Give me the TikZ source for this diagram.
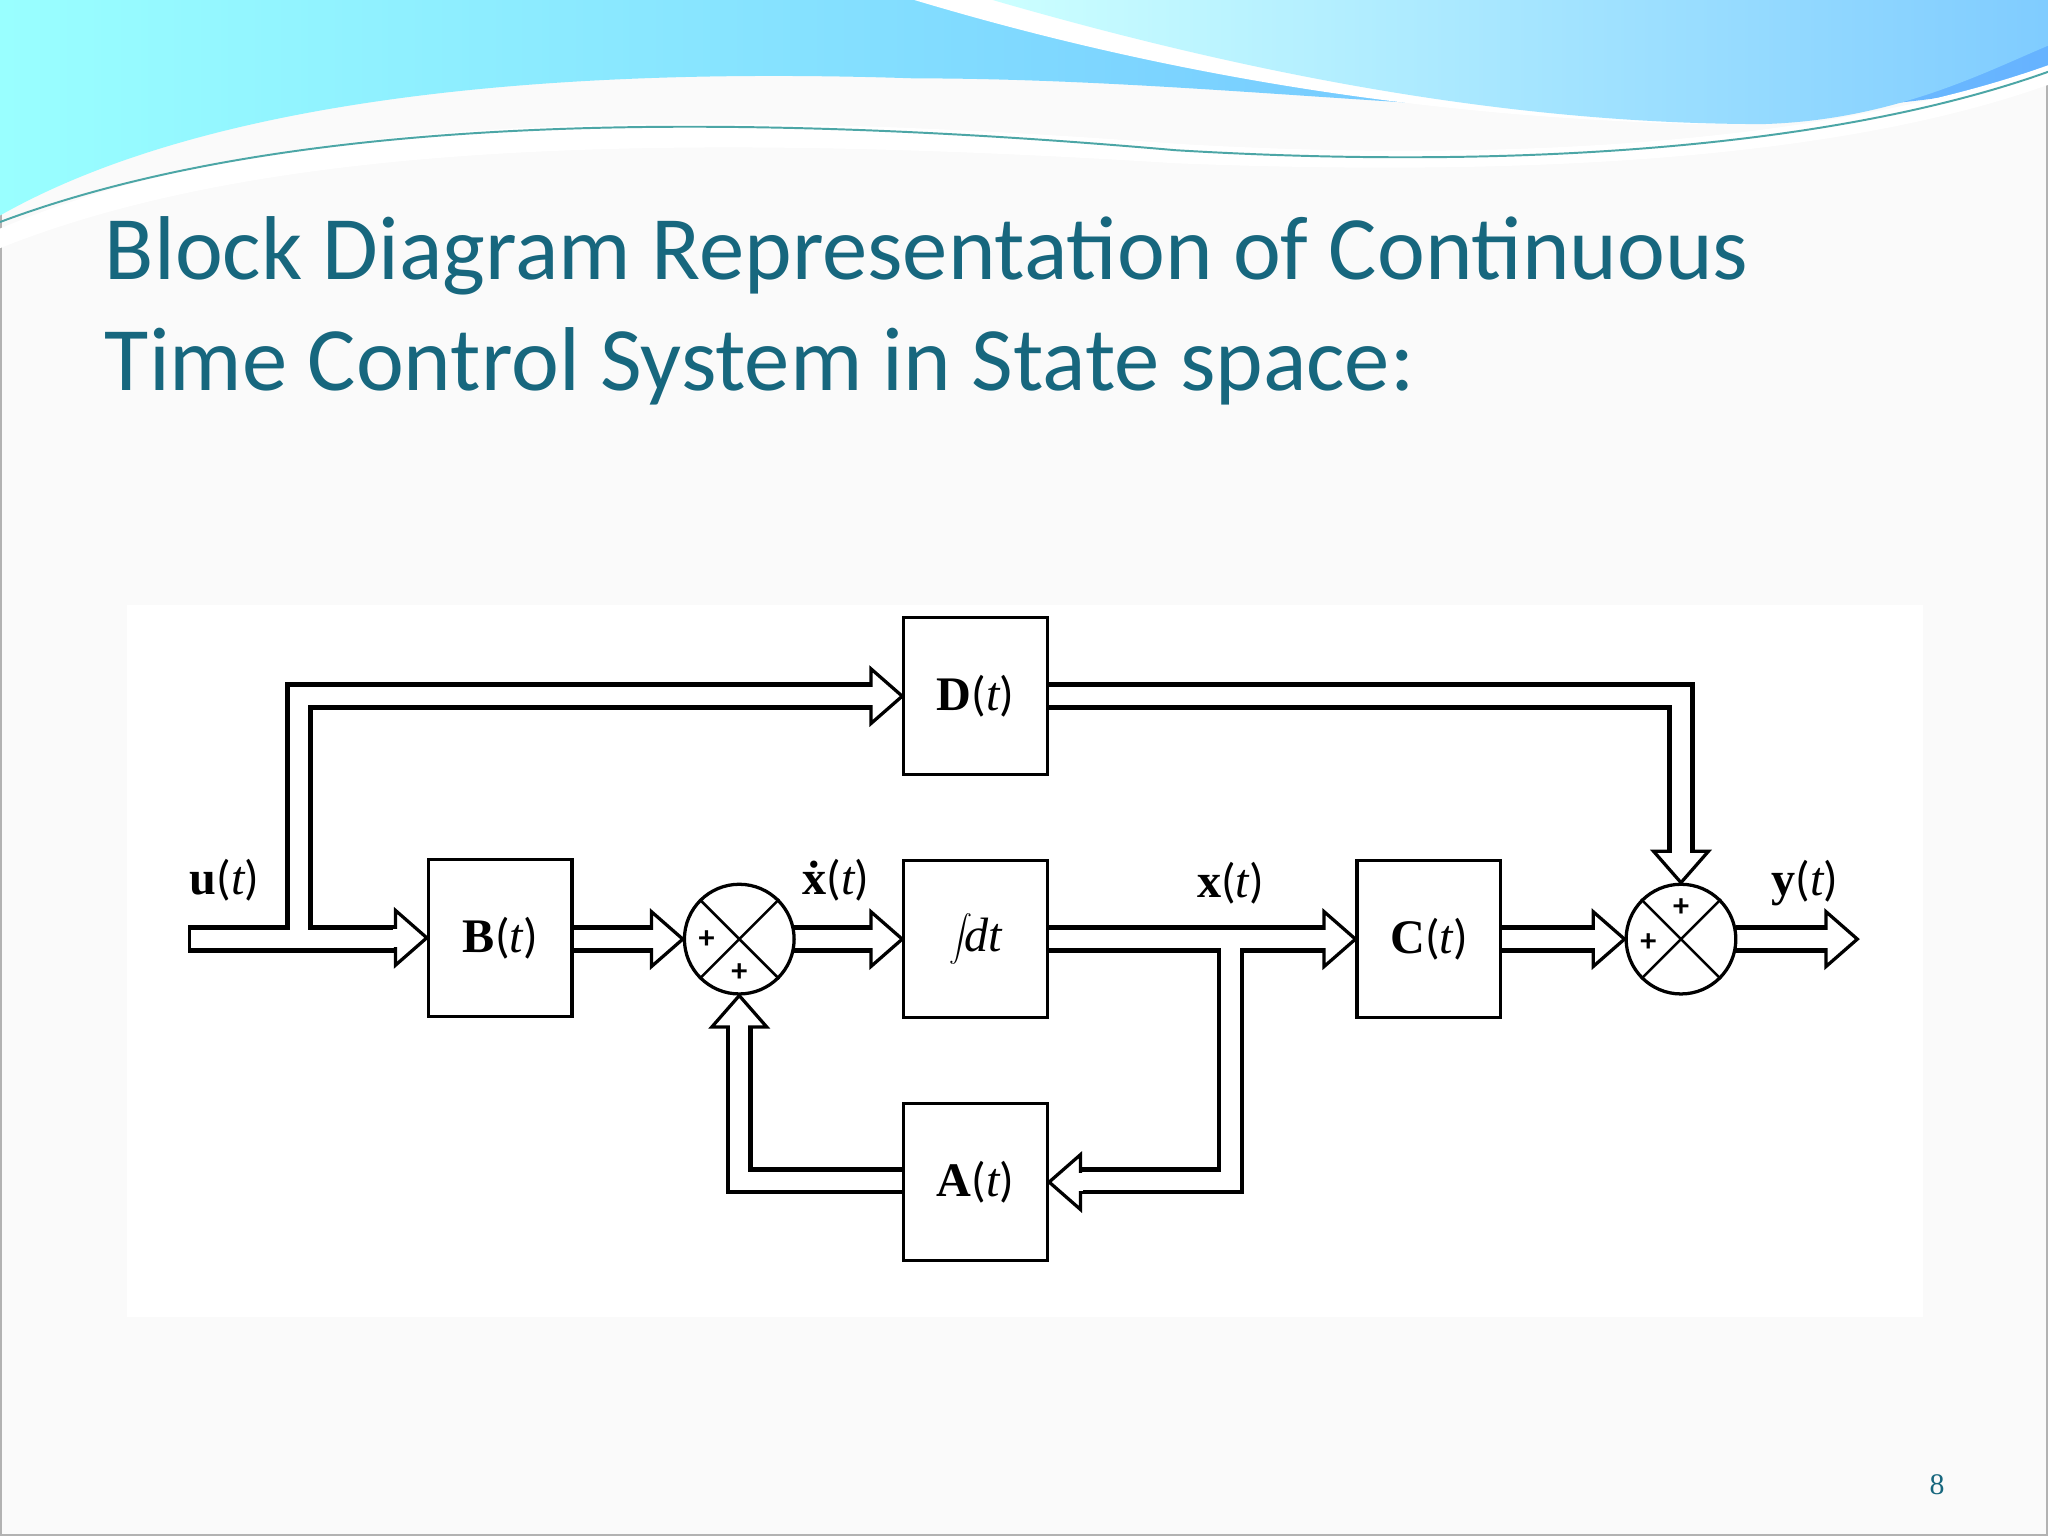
\documentclass[tikz,border=0pt]{standalone}
\usepackage{fontspec}
\setmainfont{Carlito}
\newfontfamily\serif{Liberation Serif}
\usetikzlibrary{shadings}
\definecolor{teal1}{HTML}{17677E}
\newcommand\bv[1]{{\serif\bfseries #1}({\serif\itshape t})}
\begin{document}
\begin{tikzpicture}[x=0.02cm,y=-0.02cm,
  blk/.style={draw,line width=0.05cm,fill=white,minimum width=2.2cm,minimum height=2.4cm,inner sep=0pt,font=\fontsize{21}{24}\selectfont},
  sumc/.style={draw,circle,line width=0.05cm,fill=white,minimum size=1.68cm,inner sep=0pt},
  outer/.style={line width=0.42cm,line join=miter,black},
  inner/.style={line width=0.28cm,line join=miter,white},
  head/.style={draw,line width=0.05cm,fill=white,line join=miter},
  lbl/.style={font=\fontsize{21}{24}\selectfont},
  pl/.style={font=\fontsize{14}{16}\selectfont\bfseries}]
\useasboundingbox (0,0) rectangle (1568,1176);
\fill[black!2] (0,0) rectangle (1568,1176);
\draw[gray!60,line width=0.05cm] (0,0) rectangle (1568,1176);
% top wave
\shade[left color=cyan!40!white,right color=cyan!50!blue!60] (0,0) -- (1568,0) -- (1568,60) .. controls (1300,120) and (1000,60) .. (700,60) .. controls (400,50) and (150,80) .. (0,165) -- cycle;
\fill[white] (700,0) .. controls (900,60) and (1100,90) .. (1300,95) .. controls (1420,95) and (1500,60) .. (1568,30) -- (1568,0) -- cycle;
\shade[left color=cyan!20!white,right color=cyan!60!blue!50] (760,0) .. controls (950,55) and (1150,95) .. (1350,95) .. controls (1450,92) and (1520,55) .. (1568,35) -- (1568,0) -- cycle;
\fill[white] (0,175) .. controls (200,90) and (500,80) .. (900,110) .. controls (1150,125) and (1400,110) .. (1568,50) -- (1568,65) .. controls (1400,125) and (1150,135) .. (900,125) .. controls (500,100) and (200,110) .. (0,190) -- cycle;
\draw[teal!70,line width=0.03cm] (0,170) .. controls (200,95) and (500,80) .. (900,115) .. controls (1150,130) and (1400,115) .. (1568,55);
% title
\node[anchor=base west,text=teal1,font=\fontsize{39.5}{46}\selectfont,inner sep=0pt] (title) at (80,214) {Block Diagram Representation of Continuous};
\node[anchor=base west,text=teal1,font=\fontsize{39.5}{46}\selectfont,inner sep=0pt] (title2) at (80,299) {Time Control System in State space:};
\node[text=teal1,font=\fontsize{13}{15}\selectfont\serif] (pg) at (1483,1137) {8};
% diagram area
\fill[white] (97,463) rectangle (1472,1008);
% pipes
\foreach \s in {outer,inner}{
  \draw[\s] (145,719) -- (310,719);
  \draw[\s] (229,719) -- (229,533) -- (675,533);
  \draw[\s] (438,719) -- (506,719);
  \draw[\s] (608,719) -- (675,719);
  \draw[\s] (802,719) -- (1021,719);
  \draw[\s] (942,719) -- (942,904) -- (820,904);
  \draw[\s] (692,904) -- (566,904) -- (566,780);
  \draw[\s] (802,533) -- (1287,533) -- (1287,659);
  \draw[\s] (1149,719) -- (1227,719);
  \draw[\s] (1329,719) -- (1404,719);
}
\draw[line width=0.05cm] (145,708.5) -- (145,729.5);
% arrowheads
\newcommand\hr[1]{\draw[head] (#1) -- ++(-24,-21) -- ++(0,42) -- cycle; \draw[inner,line cap=butt] (#1) ++(-26,0) -- ++(4,0);}
\newcommand\hl[1]{\draw[head] (#1) -- ++(24,-21) -- ++(0,42) -- cycle; \draw[inner] (#1) ++(26,0) -- ++(-4,0);}
\newcommand\hu[1]{\draw[head] (#1) -- ++(-21,24) -- ++(42,0) -- cycle; \draw[inner] (#1) ++(0,26) -- ++(0,-4);}
\newcommand\hd[1]{\draw[head] (#1) -- ++(-21,-24) -- ++(42,0) -- cycle; \draw[inner] (#1) ++(0,-26) -- ++(0,4);}
% blocks
\node[blk] (B) at (383,718) {\bv{B}};
\node[blk] (D) at (747,533) {\bv{D}};
\node[blk] (I) at (747,719) {$\displaystyle\int\!\!$\,{\serif\itshape dt}};
\node[blk] (A) at (747,905) {\bv{A}};
\node[blk] (C) at (1094,719) {\bv{C}};
\node[sumc] (S1) at (566,719) {};
\node[sumc] (S2) at (1287,719) {};
\draw[line width=0.04cm] (S1.north west) -- (S1.south east) (S1.north east) -- (S1.south west);
\draw[line width=0.04cm] (S2.north west) -- (S2.south east) (S2.north east) -- (S2.south west);
\node[pl] (p1) at (541,719) {+};
\node[pl] (p2) at (566,745) {+};
\node[pl] (p3) at (1287,695) {+};
\node[pl] (p4) at (1262,722) {+};
\hr{B.west} \hr{D.west} \hr{S1.west} \hr{I.west} \hr{C.west} \hl{A.east} \hu{S1.south} \hd{S2.north} \hr{S2.west}
\coordinate (out) at (1422,719); \hr{out}
% labels
\node[lbl] (lu) at (172,674) {\bv{u}};
\node[lbl] (lx) at (640,674) {{\serif\bfseries\.x}({\serif\itshape t})};
\node[lbl] (lxx) at (942,676) {\bv{x}};
\node[lbl] (ly) at (1382,676) {\bv{y}};
\end{tikzpicture}
\end{document}
